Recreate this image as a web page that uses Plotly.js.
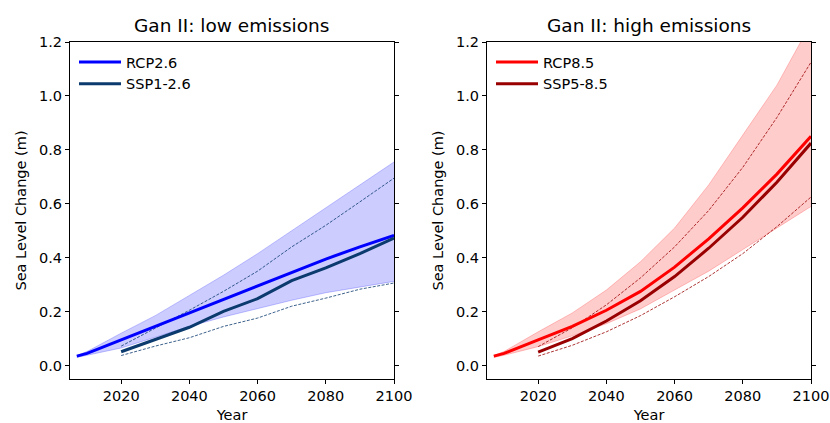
<!DOCTYPE html>
<html>
<head>
<meta charset="utf-8">
<script src="https://cdn.plot.ly/plotly-3.0.1.min.js"></script>
<style>
  html, body { margin: 0; padding: 0; background: #fff; }
  #chart { width: 830px; height: 423px; }
</style>
</head>
<body>
<div id="chart"></div>
<script>
// Projected sea level change (m), Gan II
const rcpYears = [2007, 2010, 2020, 2030, 2040, 2050, 2060, 2070, 2080, 2090, 2100];
const sspYears = [2020, 2030, 2040, 2050, 2060, 2070, 2080, 2090, 2100];

// Low emissions
const rcp26Median = [0.035, 0.045, 0.095, 0.145, 0.195, 0.247, 0.296, 0.345, 0.395, 0.44, 0.483];
const rcp26Low    = [0.030, 0.038, 0.065, 0.105, 0.145, 0.180, 0.212, 0.242, 0.270, 0.292, 0.312];
const rcp26High   = [0.037, 0.052, 0.120, 0.185, 0.260, 0.335, 0.415, 0.500, 0.585, 0.670, 0.755];
const ssp126Median = [0.051, 0.097, 0.142, 0.201, 0.248, 0.315, 0.362, 0.415, 0.473];
const ssp126Low    = [0.037, 0.072, 0.103, 0.145, 0.176, 0.220, 0.250, 0.283, 0.306];
const ssp126High   = [0.072, 0.138, 0.205, 0.275, 0.350, 0.440, 0.520, 0.607, 0.695];

// High emissions
const rcp85Median = [0.035, 0.045, 0.095, 0.145, 0.205, 0.275, 0.365, 0.470, 0.585, 0.710, 0.850];
const rcp85Low    = [0.030, 0.038, 0.070, 0.110, 0.155, 0.210, 0.280, 0.350, 0.430, 0.510, 0.590];
const rcp85High   = [0.037, 0.052, 0.125, 0.195, 0.280, 0.385, 0.510, 0.670, 0.855, 1.040, 1.270];
const ssp585Median = [0.050, 0.100, 0.165, 0.240, 0.330, 0.435, 0.550, 0.680, 0.825];
const ssp585Low    = [0.035, 0.075, 0.125, 0.185, 0.255, 0.330, 0.415, 0.515, 0.625];
const ssp585High   = [0.070, 0.140, 0.225, 0.325, 0.440, 0.575, 0.735, 0.920, 1.125];

const xTicks = [2020, 2040, 2060, 2080, 2100];
const yTicks = [0.0, 0.2, 0.4, 0.6, 0.8, 1.0, 1.2];

const FONT = 'DejaVu Sans, sans-serif';
const TXT = 14.5;

function panel(xa, ya, legendId, rcpName, sspName, rcpColor, sspColor, bandFill, bandEdge,
               rMed, rLo, rHi, sMed, sLo, sHi) {
  const common = { xaxis: xa, yaxis: ya, mode: 'lines', hoverinfo: 'skip' };
  const dashed = { color: sspColor, width: 0.8, dash: '3px,1.5px' };
  return [
    // 5-95% range of the RCP projection
    Object.assign({}, common, { x: rcpYears, y: rLo, line: { color: bandEdge, width: 1 }, showlegend: false }),
    Object.assign({}, common, { x: rcpYears, y: rHi, line: { color: bandEdge, width: 1 }, fill: 'tonexty', fillcolor: bandFill, showlegend: false }),
    // likely range of the SSP projection
    Object.assign({}, common, { x: sspYears, y: sHi, line: dashed, showlegend: false }),
    Object.assign({}, common, { x: sspYears, y: sLo, line: dashed, showlegend: false }),
    // medians
    Object.assign({}, common, { x: rcpYears, y: rMed, name: rcpName, line: { color: rcpColor, width: 3 }, legend: legendId }),
    Object.assign({}, common, { x: sspYears, y: sMed, name: sspName, line: { color: sspColor, width: 3 }, legend: legendId })
  ];
}

const data = [].concat(
  panel('x', 'y', 'legend', 'RCP2.6', 'SSP1-2.6', '#0000ff', '#0b3a6e',
        'rgba(0,0,255,0.2)', 'rgba(0,0,255,0.22)',
        rcp26Median, rcp26Low, rcp26High, ssp126Median, ssp126Low, ssp126High),
  panel('x2', 'y2', 'legend2', 'RCP8.5', 'SSP5-8.5', '#ff0000', '#990000',
        'rgba(255,0,0,0.2)', 'rgba(255,0,0,0.22)',
        rcp85Median, rcp85Low, rcp85High, ssp585Median, ssp585Low, ssp585High)
);

function xAxis(domain, anchor) {
  return {
    domain: domain, anchor: anchor, range: [2005, 2100],
    tickvals: xTicks, ticks: 'outside', ticklen: 4, tickwidth: 1, tickcolor: '#000',
    showline: true, linecolor: '#000', linewidth: 1, mirror: true,
    showgrid: false, zeroline: false,
    tickfont: { family: FONT, size: TXT, color: '#000' },
    title: { text: 'Year', font: { family: FONT, size: TXT, color: '#000' }, standoff: 11 }
  };
}
function yAxis(domain, anchor) {
  return {
    domain: domain, anchor: anchor, range: [-0.05, 1.2],
    tickvals: yTicks, tickformat: '.1f', ticks: 'outside', ticklen: 4, tickwidth: 1, tickcolor: '#000',
    showline: true, linecolor: '#000', linewidth: 1, mirror: 'ticks',
    showgrid: false, zeroline: false,
    tickfont: { family: FONT, size: TXT, color: '#000' },
    title: { text: 'Sea Level Change (m)', font: { family: FONT, size: TXT, color: '#000' }, standoff: 8 }
  };
}

const yDom = [1 - 379 / 423, 1 - 42 / 423];
const x1Dom = [70 / 830, 394 / 830];
const x2Dom = [487 / 830, 811 / 830];

const legendStyle = {
  font: { family: FONT, size: TXT, color: '#000' },
  bgcolor: 'rgba(255,255,255,0)', borderwidth: 0, traceorder: 'normal',
  xanchor: 'left', yanchor: 'top', tracegroupgap: 0, itemwidth: 42
};

const layout = {
  width: 830, height: 423,
  margin: { l: 0, r: 0, t: 0, b: 0 },
  paper_bgcolor: '#fff', plot_bgcolor: '#fff',
  font: { family: FONT, color: '#000' },
  xaxis: xAxis(x1Dom, 'y'),
  yaxis: yAxis(yDom, 'x'),
  xaxis2: xAxis(x2Dom, 'y2'),
  yaxis2: yAxis(yDom, 'x2'),
  legend: Object.assign({}, legendStyle, { x: 74 / 830, y: 1 - 46 / 423 }),
  legend2: Object.assign({}, legendStyle, { x: 491 / 830, y: 1 - 46 / 423 }),
  annotations: [
    { text: 'Gan II: low emissions', xref: 'paper', yref: 'paper',
      x: (x1Dom[0] + x1Dom[1]) / 2, y: 1 - 26 / 423, xanchor: 'center', yanchor: 'middle',
      showarrow: false, font: { family: FONT, size: 18.5, color: '#000' } },
    { text: 'Gan II: high emissions', xref: 'paper', yref: 'paper',
      x: (x2Dom[0] + x2Dom[1]) / 2, y: 1 - 26 / 423, xanchor: 'center', yanchor: 'middle',
      showarrow: false, font: { family: FONT, size: 18.5, color: '#000' } }
  ],
  showlegend: true
};

Plotly.newPlot('chart', data, layout, { displayModeBar: false, staticPlot: true });
</script>
</body>
</html>
